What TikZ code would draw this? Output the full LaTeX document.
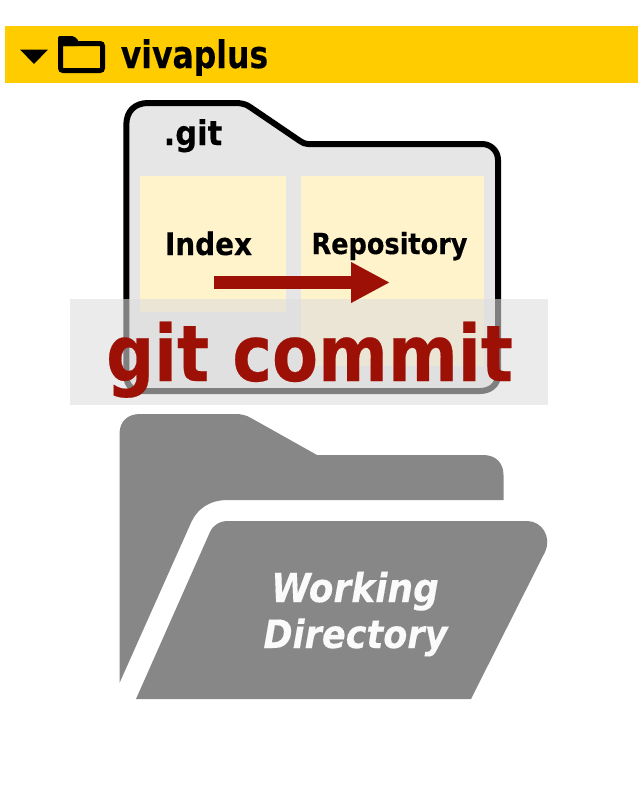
\documentclass[tikz,border=0pt]{standalone}
\usepackage{fontspec}
\setmainfont[BoldFeatures={FakeBold=0.3},BoldItalicFeatures={FakeBold=0.3}]{DejaVu Sans Condensed}
\usetikzlibrary{arrows.meta}
\definecolor{banner}{HTML}{FFCC00}
\definecolor{cream}{HTML}{FFF3CC}
\definecolor{folderbg}{HTML}{E6E6E6}
\definecolor{bandc}{HTML}{DCDCDC}
\definecolor{wd}{HTML}{878787}
\definecolor{red1}{HTML}{9C1006}
\tikzset{
  x=1pt,y=-1pt,
  lbl/.style={inner sep=0pt,anchor=base,font=\bfseries\fontsize{#1}{#1}\selectfont},
  wdlbl/.style={inner sep=0pt,anchor=base,text=white!98!black,font=\bfseries\itshape\fontsize{#1}{#1}\selectfont},
  store/.style={fill=cream,draw=none,inner sep=0pt,anchor=north west},
}
\begin{document}
\begin{tikzpicture}
\useasboundingbox (0,0) rectangle (638,801);
% banner
\fill[banner] (5,26) rectangle (638,83);
\fill[black] (20,49.5) -- (48,49.5) -- (34,64) -- cycle;
\draw[line width=5pt,rounded corners=2.5pt] (60.5,43.5) rectangle (102.5,70.5);
\fill[black,rounded corners=2pt] (58,46) -- (58,36) -- (74,36) -- (79,41) -- (79,46) -- cycle;
\node[lbl=38] (viva) at (194.5,68) {\scalebox{.92}[1]{vivaplus}};
% .git folder
\draw[fill=folderbg,line width=6pt,line join=round] (126.3,375) -- (126.3,125) .. controls (126.3,111) and (135,103) .. (148,103) -- (235,103) .. controls (241,103) and (246,104) .. (250,107) -- (300,141) .. controls (303,143) and (305,144) .. (308,144) -- (482,144) .. controls (491,144) and (498,151) .. (498,160) -- (498,375) .. controls (498,385) and (490,391) .. (480,391) -- (142,391) .. controls (132,391) and (126.3,385) .. (126.3,375) -- cycle;
\node[lbl=34] (git) at (193,145) {.git};
\node[store,minimum width=146pt,minimum height=136pt] (index) at (140,176) {};
\node[store,minimum width=183pt,minimum height=190pt] (repo) at (301,176) {};
\node[lbl=31] at (208.5,255) {Index};
\node[lbl=29] at (389.5,254) {\scalebox{.98}[1]{Repository}};
% band
\node[fill=bandc,opacity=.58,inner sep=0pt,anchor=north west,minimum width=478pt,minimum height=106pt] (band) at (70,299) {};
% arrow
\coordinate (arrowstart) at (214,282.5);
\coordinate (arrowend) at (390,282.5);
\draw[red1,line width=13pt,-{Triangle[length=39pt,width=38pt]}] (arrowstart) -- (arrowend);
\node[lbl=78,text=red1] (cmd) at (309.5,381) {\scalebox{.955}[1]{git commit}};
% working directory
\fill[wd] (119.5,683) -- (119.5,434) .. controls (119.5,421) and (128,414) .. (140,414) -- (235,414) .. controls (241,414) and (246,415) .. (251,418) -- (317,455) -- (483,455) .. controls (496,455) and (503.5,463) .. (503.5,475) -- (503.5,500) -- (228,500) .. controls (210,500) and (197,508) .. (190,525) -- cycle;
\fill[wd] (136,699) -- (210,532) .. controls (213,525) and (220,521) .. (228,521) -- (527,521) .. controls (542,521) and (552,537) .. (545,552) -- (471,699) -- cycle;
\node[wdlbl=40] (work) at (355,602) {Working};
\node[wdlbl=39] (dir) at (355.5,648) {Directory};
\end{tikzpicture}
\end{document}
